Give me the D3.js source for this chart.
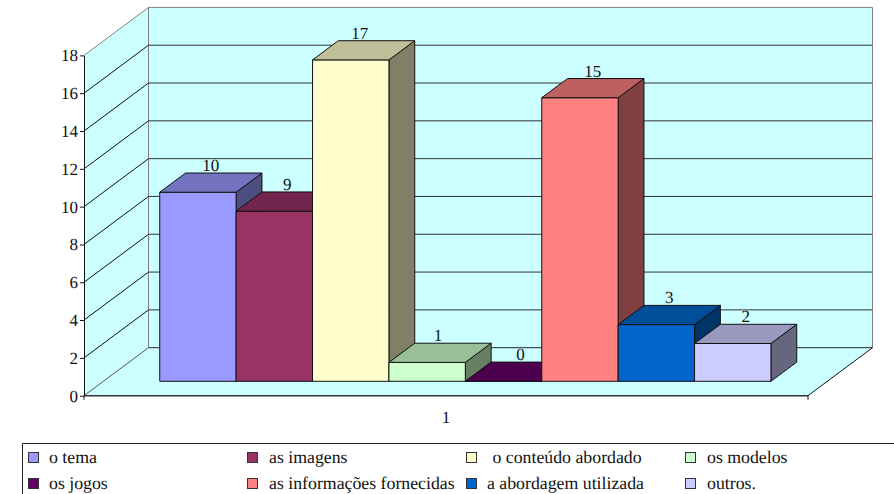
<!DOCTYPE html>
<html>
<head>
<meta charset="utf-8">
<script src="https://cdn.jsdelivr.net/npm/d3@7"></script>
<style>
  html, body { margin: 0; padding: 0; background: #fff; overflow: hidden; }
  svg { display: block; }
  text { font-family: "Liberation Serif", serif; fill: #111; text-rendering: geometricPrecision; }
</style>
</head>
<body>
<svg id="chart" width="894" height="494"></svg>
<script>
const categories = ["o tema", "as imagens", "o conteúdo abordado", "os modelos", "os jogos", "as informações fornecidas", "a abordagem utilizada", "outros."];
const values = [10, 9, 17, 1, 0, 15, 3, 2];
const fills = ["#9999ff", "#993366", "#ffffcc", "#ccffcc", "#660066", "#ff8080", "#0066cc", "#ccccff"];
const yTicks = [0, 2, 4, 6, 8, 10, 12, 14, 16, 18];
const groupLabel = "1";

const WALL = "#ccffff";
const FRAME = "#808080";

// Oblique projection: depth runs from 0 (front edge) to 1 (back wall)
const DEPTH_X = 64.5;
const DEPTH_Y = 48;
const BAR_Z0 = 0.30;
const BAR_Z1 = 0.70;

// A few value labels are dodged sideways off centre
const LABEL_NUDGE = { 2: -4, 3: -2, 4: 4 };

const svg = d3.select("#chart");

const x = d3.scaleBand().domain(categories).range([84, 808]).paddingInner(0).paddingOuter(0.738);
const y = d3.scaleLinear().domain([0, 18]).range([395.7, 55.4]);

const pt = (px, v, z) => [px + z * DEPTH_X, y(v) - z * DEPTH_Y];
const poly = (pts) => "M" + pts.map((p) => p.join(",")).join("L") + "Z";

const xMin = x.range()[0];
const xMax = x.range()[1];
const yMax = y.domain()[1];

// ── Walls and floor ──
const walls = svg.append("g");
walls.append("path")
  .attr("d", poly([pt(xMin, 0, 0), pt(xMin, 0, 1), pt(xMin, yMax, 1), pt(xMin, yMax, 0)]))
  .attr("fill", WALL).attr("stroke", "none");
walls.append("path")
  .attr("d", poly([pt(xMin, 0, 1), pt(xMax, 0, 1), pt(xMax, yMax, 1), pt(xMin, yMax, 1)]))
  .attr("fill", WALL).attr("stroke", FRAME);
walls.append("path")
  .attr("d", poly([pt(xMin, 0, 0), pt(xMax, 0, 0), pt(xMax, 0, 1), pt(xMin, 0, 1)]))
  .attr("fill", WALL).attr("stroke", "none");

// Side wall edges
walls.append("path")
  .attr("d", d3.line()([pt(xMin, yMax, 0), pt(xMin, yMax, 1)]))
  .attr("stroke", FRAME).attr("fill", "none");
walls.append("path")
  .attr("d", d3.line()([pt(xMin, 0, 0), pt(xMin, 0, 1)]))
  .attr("stroke", "#555").attr("fill", "none");
walls.append("path")
  .attr("d", d3.line()([pt(xMax, 0, 0), pt(xMax, 0, 1)]))
  .attr("stroke", "#111").attr("fill", "none");

// ── Gridlines ──
const gridTicks = yTicks.filter((t) => t > 0 && t < yMax);
walls.selectAll("path.grid-side")
  .data(gridTicks)
  .join("path")
  .attr("class", "grid-side")
  .attr("d", (t) => d3.line()([pt(xMin, t, 0), pt(xMin, t, 1)]))
  .attr("stroke", "#111").attr("fill", "none");
walls.selectAll("path.grid-back")
  .data(yTicks.filter((t) => t < yMax))
  .join("path")
  .attr("class", "grid-back")
  .attr("d", (t) => d3.line()([pt(xMin, t, 1), pt(xMax, t, 1)]))
  .attr("stroke", "#333").attr("fill", "none");

// ── Bars, painted left to right so each one covers its neighbour's side ──
const bars = svg.append("g").selectAll("g")
  .data(categories.map((c, i) => ({ name: c, value: values[i], fill: fills[i] })))
  .join("g");

const darker = (c, k) => {
  const r = d3.rgb(c);
  return d3.rgb(r.r * k, r.g * k, r.b * k).formatHex();
};

bars.append("path") // side
  .attr("d", (d) => {
    const r = x(d.name) + x.bandwidth();
    return poly([pt(r, 0, BAR_Z0), pt(r, 0, BAR_Z1), pt(r, d.value, BAR_Z1), pt(r, d.value, BAR_Z0)]);
  })
  .attr("fill", (d) => darker(d.fill, 0.5))
  .attr("stroke", "#111");

bars.append("path") // front
  .attr("d", (d) => {
    const l = x(d.name);
    const r = l + x.bandwidth();
    return poly([pt(l, 0, BAR_Z0), pt(r, 0, BAR_Z0), pt(r, d.value, BAR_Z0), pt(l, d.value, BAR_Z0)]);
  })
  .attr("fill", (d) => d.fill)
  .attr("stroke", "#111");

bars.append("path") // top
  .attr("d", (d) => {
    const l = x(d.name);
    const r = l + x.bandwidth();
    return poly([pt(l, d.value, BAR_Z0), pt(r, d.value, BAR_Z0), pt(r, d.value, BAR_Z1), pt(l, d.value, BAR_Z1)]);
  })
  .attr("fill", (d) => darker(d.fill, 0.75))
  .attr("stroke", "#111");

// Value labels sit above the back edge of each bar top
svg.append("g").selectAll("text")
  .data(categories.map((c, i) => ({ name: c, value: values[i], nudge: LABEL_NUDGE[i] || 0 })))
  .join("text")
  .attr("x", (d) => pt(x(d.name) + x.bandwidth() / 2, d.value, (BAR_Z0 + BAR_Z1) / 2)[0] + d.nudge)
  .attr("y", (d) => pt(0, d.value, BAR_Z1)[1] - 2)
  .attr("text-anchor", "middle")
  .attr("font-size", 17)
  .text((d) => d.value);

// ── Axes ──
const yAxis = svg.append("g")
  .attr("transform", `translate(${xMin},0)`)
  .call(d3.axisLeft(y).tickValues(yTicks).tickSize(4).tickPadding(2).tickSizeOuter(0));
yAxis.selectAll("text").attr("font-size", 17).style("font-family", '"Liberation Serif", serif').attr("fill", "#111");
yAxis.selectAll("line,path").attr("stroke", "#111");

const baseY = y(0);
svg.append("line")
  .attr("x1", xMin).attr("x2", xMax).attr("y1", baseY).attr("y2", baseY)
  .attr("stroke", "#333").attr("stroke-width", 1.5);
svg.selectAll("line.end-tick")
  .data([xMin, xMax])
  .join("line")
  .attr("class", "end-tick")
  .attr("x1", (d) => d).attr("x2", (d) => d)
  .attr("y1", baseY).attr("y2", baseY + 4)
  .attr("stroke", "#111");

svg.append("text")
  .attr("x", (xMin + xMax) / 2)
  .attr("y", 423)
  .attr("text-anchor", "middle")
  .attr("font-size", 17)
  .text(groupLabel);

// ── Legend box runs off the right and bottom edges ──
svg.append("path")
  .attr("d", "M894.5,443.5H22.5V494.5")
  .attr("fill", "none").attr("stroke", "#222");

const colX = [28, 247, 466, 685];
const textX = [49, 269, 487, 707];
const rowY = [458, 484];
const legendItems = svg.append("g").selectAll("g")
  .data(categories.map((c, i) => ({ name: c, fill: fills[i], col: i % 4, row: i < 4 ? 0 : 1 })))
  .join("g");

legendItems.append("rect")
  .attr("x", (d) => colX[d.col] + 0.5)
  .attr("y", (d) => rowY[d.row] - 5.5)
  .attr("width", 10).attr("height", 10)
  .attr("fill", (d) => d.fill)
  .attr("stroke", "#333");

legendItems.append("text")
  .attr("x", (d) => textX[d.col] + (d.name === "o conteúdo abordado" ? 5.5 : 0))
  .attr("y", (d) => rowY[d.row] + 5)
  .attr("font-size", 17.8)
  .text((d) => d.name);
</script>
</body>
</html>
